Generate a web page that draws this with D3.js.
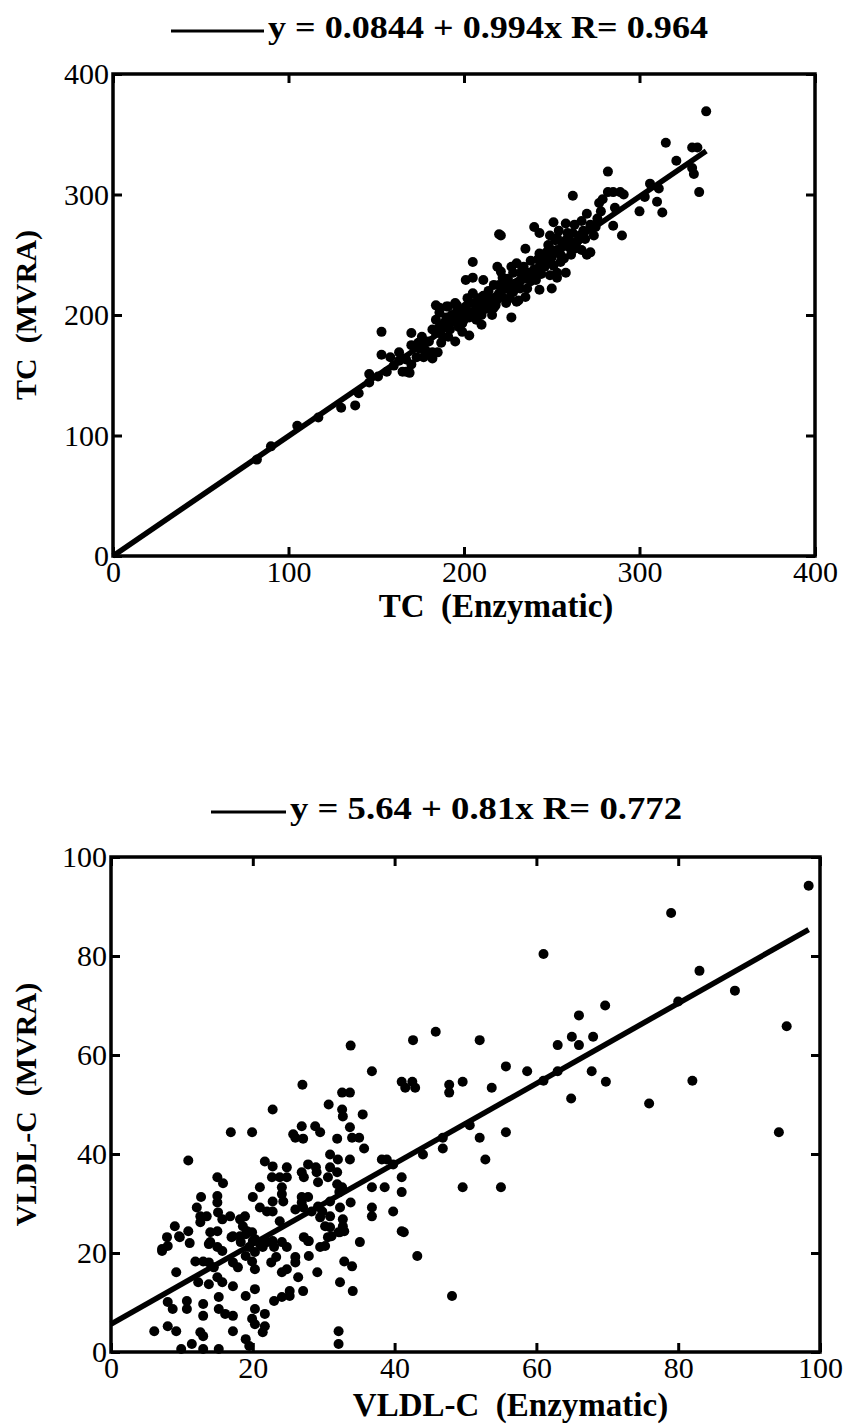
<!DOCTYPE html>
<html><head><meta charset="utf-8">
<script src="https://cdn.jsdelivr.net/npm/d3@7/dist/d3.min.js"></script>
<style>
html,body{margin:0;padding:0;background:#fff;}
svg{display:block;}
</style></head>
<body>
<svg id="chart" width="845" height="1424"></svg>
<script>
// ---------- DATA ----------
const topTicks = [0, 100, 200, 300, 400];
const bottomTicks = [0, 20, 40, 60, 80, 100];

const topTitle = "y = 0.0844 + 0.994x R= 0.964";
const bottomTitle = "y = 5.64 + 0.81x R= 0.772";
const topXLabel = "TC  (Enzymatic)";
const topYLabel = "TC  (MVRA)";
const bottomXLabel = "VLDL-C  (Enzymatic)";
const bottomYLabel = "VLDL-C  (MVRA)";

const topFit = [0.0844, 0.994, 0, 338];      // intercept, slope, xStart, xEnd
const bottomFit = [5.64, 0.81, 0, 98.4];

// TC: [enzymatic, MVRA]
const tcPoints = [
[82,80],[90,91],[105,108],[117,115],[130,123],[138,125],[140,135],[146,144],[146,151],[151,149],
[153,186],[153,167],[156,153],[160,158],[163,162],[165,164],[167,153],[167,163],[169,152],[170,159],
[165,153],[163,169],[170,185],[173,165],[174,177],[176,182],[178,171],[182,169],[182,188],[184,196],
[186,202],[180,167],[185,169],[182,164],[184,185],[187,177],[191,182],[195,178],[199,193],[203,183],
[207,196],[210,192],[216,200],[227,198],[184,208],[190,207],[195,210],[201,207],[207,208],[212,210],
[218,208],[224,210],[230,211],[186,206],[190,198],[197,198],[191,207],[196,208],[199,202],[207,206],
[213,207],[218,210],[205,218],[209,212],[214,215],[220,218],[226,221],[231,212],[235,215],[201,229],
[205,231],[211,229],[217,225],[224,227],[230,223],[241,229],[243,221],[250,222],[253,231],[258,235],
[219,240],[221,236],[230,243],[233,237],[237,235],[243,239],[249,233],[253,235],[205,244],[243,251],
[247,245],[244,243],[267,254],[270,250],[272,252],[235,255],[249,255],[253,254],[260,256],[264,260],
[221,266],[240,273],[243,268],[249,266],[253,264],[259,268],[251,277],[258,276],[270,284],[267,278],
[276,280],[275,273],[274,266],[285,274],[290,266],[277,293],[279,296],[286,289],[282,302],[285,302],
[289,302],[291,300],[262,299],[300,286],[313,285],[303,298],[310,294],[306,309],[311,305],[282,319],
[321,328],[330,322],[331,317],[334,302],[315,343],[330,339],[333,339],[338,369],[220,267],
[175,172],[178,178],[188,190],[192,188],[194,195],[198,200],[200,196],[202,203],[204,210],[206,200],
[208,214],[212,205],[214,220],[216,212],[220,225],[222,215],[225,230],[228,219],[232,228],[234,240],
[236,230],[238,245],[240,238],[242,246],[245,250],[246,240],[248,258],[250,248],[252,262],[255,250],
[256,258],[258,262],[262,268],[265,262],[268,270],[272,275],[180,178],[188,182],[193,200],[197,190],
[203,198],[209,203],[215,205],[219,213],[223,222],[228,235],[232,222],[239,233],[247,252],[261,250],
[263,275],[170,175],[177,165],[158,165],[189,194],[196,203],[211,216],[217,206],[226,214],[229,226],
[236,222],[238,228],[244,234],[251,241],[255,244],[257,247],[260,262],[263,255],[266,266],[269,263],
[186,190],[199,186],[202,214],[210,200],[222,231],[227,240],[233,233],[246,247],[254,270],[278,286]
];

// VLDL-C: [enzymatic, MVRA]
const vldlPoints = [
[98.4,94.2],[79,88.7],[61,80.4],[83,77],[88,73],[80,70.8],[95.3,65.8],[69.7,70],[66,68],[65,63.7],
[68,63.7],[52,63],[45.8,64.7],[42.6,63],[63,62],[66,62],[55.7,57.7],[58.7,56.7],[47.7,54],[47.7,52.4],
[49.6,54.6],[53.7,53.4],[61,54.8],[63,56.7],[67.8,56.7],[69.8,54.6],[82,54.8],[64.9,51.2],[75.9,50.2],
[94.2,44.4],[50.6,45.8],[46.8,43.3],[46.8,41.1],[52,43.3],[55.7,44.4],[52.8,38.9],[49.6,33.3],[55,33.3],
[33.8,61.9],[36.8,56.7],[41,54.6],[42.5,54.6],[42.9,53.4],[41.5,53.4],[27,54],[32.6,52.4],[33.7,52.4],
[22.8,49],[30.7,50],[32.6,49],[32.7,47.6],[35.5,48],[26.9,45.6],[28.8,45.6],[29.5,44.4],[25.7,44],
[26,43.3],[27.1,43.1],[16.9,44.4],[19.9,44.4],[33.7,45.4],[34,43.3],[35,43.3],[31.9,43.1],[35.7,41.1],
[30.9,39.9],[32,38.9],[33.7,38.9],[38.2,38.9],[38.9,38.9],[39.8,37.9],[44,39.9],[10.9,38.7],[21.7,38.5],
[22.8,37.5],[24.8,37.3],[27.8,37.9],[28.9,37.3],[26.9,36.3],[27.2,35.3],[29,36.3],[29.2,34.3],[30.9,37.3],
[30.6,35.3],[31.9,36.3],[31.9,33.9],[22.7,35.3],[23.8,35.3],[24.8,35.3],[15,35.3],[15.8,34.1],[21,33.3],
[24.1,33.3],[20,31.3],[22.8,30.4],[24.1,31.9],[24.3,30.4],[26.9,31.3],[27.8,31.3],[26.9,30.2],[12.7,31.3],
[15,31.5],[15,30.2],[32.6,33.3],[32.2,32.3],[33.8,30.2],[30.9,30.4],[36.8,33.3],[38.6,33.3],[41,35.3],
[41,32.3],[36.8,29.2],[36.8,27.4],[39.8,28.4],[41,24.4],[35.1,22.2],[29.2,29.4],[29.8,28.4],[29.5,27.2],
[30.9,27.4],[30.2,25.4],[30.9,25.2],[30.6,23.2],[32.3,29.2],[32.7,26.8],[32.7,25.4],[32.3,24.2],[26,28.8],
[27.1,29.2],[28.3,28.4],[21,29.2],[22,28.4],[22.8,28.4],[12.1,29.2],[12.6,27.4],[13.5,27.4],[15.1,28.2],
[15.7,26.8],[16.8,27.4],[18.2,26.8],[18.9,27.4],[18.6,25.4],[19.2,24.4],[19.9,24.2],[23.8,26.4],[27.2,23.2],
[27.8,22.4],[9,25.4],[7.9,23.2],[9.7,23.2],[10.9,24.4],[12.6,26.2],[14,24.2],[15,24.4],[17,23.2],[18.2,23.4],
[20,22.4],[14,22.2],[15,21.2],[7.2,20.8],[22,22.2],[22.8,22.4],[24.1,22.2],[24.8,21.2],[21.4,21.2],[29.5,21.2],
[7.2,20.4],[8,21.4],[9.6,23.4],[11.1,22],[13.8,21.8],[15.7,20.4],[17.2,23.4],[18.3,22.2],[19.5,21.2],
[20.3,20.2],[19,23.8],[20.3,22.8],[21,21.8],[23,21.2],[27.9,22.4],[30.2,21.4],[31.1,23.4],[32.1,24.2],
[32.9,24.4],[41.3,24.2],[43.2,19.4],[48.1,11.3],[9.2,16.1],[11.9,18.3],[13,18.3],[13.8,18.1],[14.5,17.1],
[12.3,14.1],[13.8,13.7],[15,15.1],[15.7,14.1],[17.2,13.3],[17.2,18.1],[17.9,17.1],[19,19.4],[19.9,18.3],
[20.3,16.7],[22.6,18.1],[23.3,19.2],[24.1,16.1],[24.8,16.7],[26,19.2],[26,18.1],[27.9,19.4],[26.4,15.1],
[29.1,16.1],[27.1,12.3],[32.9,18.3],[34,17.3],[32.3,14.1],[34.1,12.3],[8,10.1],[8.7,8.7],[10.7,10.3],
[10.7,8.7],[13,9.7],[13,7.3],[15.2,11.1],[15.2,8.7],[16.1,7.7],[17.2,7.3],[19,11.3],[20.3,12.7],[20.3,8.7],
[19.9,6.7],[20.3,5.6],[21.7,7.7],[21.7,5.2],[21.4,4],[23,10.3],[24.1,11.1],[25.2,12.3],[25.2,11.3],
[6.1,4.2],[8,5.2],[9.2,4.2],[12.6,4],[13,3.2],[11.4,1.6],[9.9,0.6],[13,0.6],[15.2,0.6],[17.2,4.2],
[19,2.6],[19.5,1.2],[32.1,4.2],[32.1,1.6]
];

// ---------- DRAW ----------
const svg = d3.select("#chart");
const serif = "'Liberation Serif','Times New Roman',serif";

function panel(cfg) {
  const x = d3.scaleLinear().domain(cfg.domain).range([cfg.left, cfg.right]);
  const y = d3.scaleLinear().domain(cfg.domain).range([cfg.bottom, cfg.top]);
  const g = svg.append("g");

  // points
  g.append("g").selectAll("circle").data(cfg.points).join("circle")
    .attr("cx", d => x(d[0])).attr("cy", d => y(d[1])).attr("r", 5).attr("fill", "#000");

  // regression line
  const [a, b, x0, x1] = cfg.fit;
  g.append("line")
    .attr("x1", x(x0)).attr("y1", y(a + b * x0))
    .attr("x2", x(x1)).attr("y2", y(a + b * x1))
    .attr("stroke", "#000").attr("stroke-width", 5.5).attr("stroke-linecap", "butt");

  const styleAxis = (sel, labels) => {
    sel.select(".domain").remove();
    sel.selectAll(".tick line").attr("stroke", "#000").attr("stroke-width", 3);
    sel.selectAll(".tick text")
      .attr("font-family", serif).attr("font-size", 30).attr("fill", "#000")
      .style("display", labels ? null : "none");
  };

  // bottom axis
  g.append("g").attr("transform", `translate(0,${cfg.bottom})`)
    .call(d3.axisBottom(x).tickValues(cfg.ticks).tickSize(-9).tickPadding(5).tickFormat(d3.format("d")))
    .call(s => styleAxis(s, true));
  // top axis
  g.append("g").attr("transform", `translate(0,${cfg.top})`)
    .call(d3.axisTop(x).tickValues(cfg.ticks).tickSize(-9))
    .call(s => styleAxis(s, false));
  // left axis
  g.append("g").attr("transform", `translate(${cfg.left},0)`)
    .call(d3.axisLeft(y).tickValues(cfg.ticks).tickSize(-9).tickPadding(4).tickFormat(d3.format("d")))
    .call(s => styleAxis(s, true));
  // right axis
  g.append("g").attr("transform", `translate(${cfg.right},0)`)
    .call(d3.axisRight(y).tickValues(cfg.ticks).tickSize(-9))
    .call(s => styleAxis(s, false));

  // frame
  g.append("rect")
    .attr("x", cfg.left).attr("y", cfg.top)
    .attr("width", cfg.right - cfg.left).attr("height", cfg.bottom - cfg.top)
    .attr("fill", "none").attr("stroke", "#000").attr("stroke-width", 3.5);

  // title with legend line
  g.append("line")
    .attr("x1", cfg.legX0).attr("x2", cfg.legX1)
    .attr("y1", cfg.titleY - 7).attr("y2", cfg.titleY - 7)
    .attr("stroke", "#000").attr("stroke-width", 3);
  g.append("text")
    .attr("x", cfg.legX1 + 4).attr("y", cfg.titleY)
    .attr("font-family", serif).attr("font-weight", "bold").attr("font-size", 32)
    .attr("textLength", cfg.titleW).attr("lengthAdjust", "spacingAndGlyphs")
    .style("white-space", "pre")
    .text(cfg.title);

  // axis labels
  g.append("text")
    .attr("x", (cfg.left + cfg.right) / 2 + cfg.xLabDx).attr("y", cfg.bottom + cfg.xLabDy)
    .attr("text-anchor", "middle")
    .attr("font-family", serif).attr("font-weight", "bold").attr("font-size", 33)
    .style("white-space", "pre")
    .text(cfg.xLabel);
  g.append("text")
    .attr("transform", `translate(36,${(cfg.top + cfg.bottom) / 2}) rotate(-90)`)
    .attr("text-anchor", "middle")
    .attr("font-family", serif).attr("font-weight", "bold").attr("font-size", 30)
    .style("white-space", "pre")
    .text(cfg.yLabel);
}

panel({
  domain: [0, 400], ticks: topTicks, points: tcPoints, fit: topFit,
  left: 113, right: 815, top: 74, bottom: 556,
  title: topTitle, titleY: 38, legX0: 171, legX1: 264, titleW: 440,
  xLabel: topXLabel, yLabel: topYLabel, xLabDx: 32, xLabDy: 61
});
panel({
  domain: [0, 100], ticks: bottomTicks, points: vldlPoints, fit: bottomFit,
  left: 111, right: 820, top: 857, bottom: 1352,
  title: bottomTitle, titleY: 819, legX0: 211, legX1: 286, titleW: 392,
  xLabel: bottomXLabel, yLabel: bottomYLabel, xLabDx: 45, xLabDy: 64
});
</script>
</body></html>
